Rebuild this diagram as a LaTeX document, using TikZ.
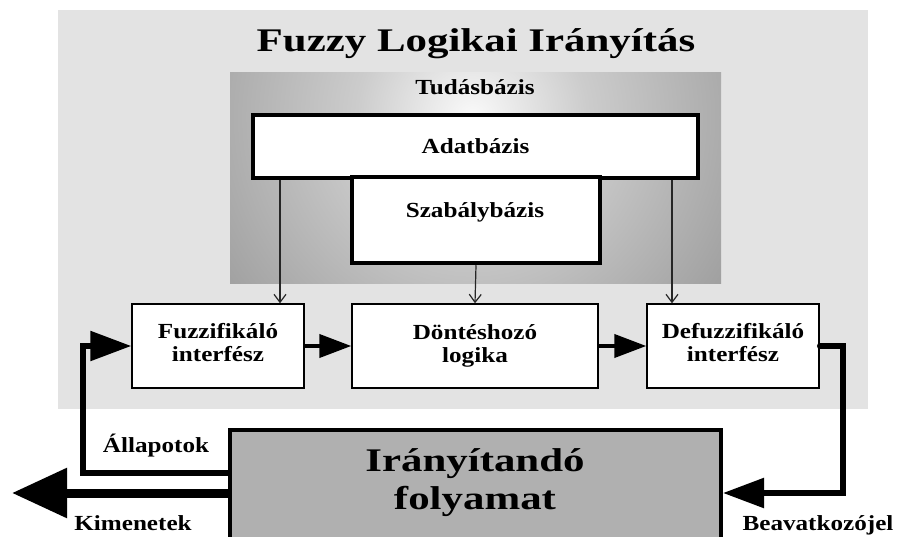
\documentclass[tikz,border=0pt]{standalone}
\usepackage{fontspec}
\setmainfont{Liberation Serif}[FakeStretch=1.3]
\newfontfamily\lblfont{Liberation Serif}[FakeStretch=1.17]
\usetikzlibrary{arrows.meta}
\definecolor{panelgray}{gray}{0.89}
\definecolor{tuda}{gray}{0.98}
\definecolor{tudb}{gray}{0.80}
\definecolor{tudc}{gray}{0.62}
\definecolor{tudd}{gray}{0.51}
\definecolor{tude}{gray}{0.40}
\definecolor{procfill}{gray}{0.69}
\pgfdeclareradialshading{tudas}{\pgfpoint{0bp}{0bp}}{color(0bp)=(tuda); color(9bp)=(tudb); color(24bp)=(tudc); color(38bp)=(tudd); color(47bp)=(tude); color(50bp)=(tude)}
\begin{document}
\begin{tikzpicture}[x=1pt,y=-1pt,
  lbl/.style={font=\lblfont\fontsize{21.5}{23}\selectfont\bfseries, align=center, inner sep=0pt},
  big/.style={font=\fontsize{33}{38}\selectfont\bfseries, align=center, inner sep=0pt},
  unit/.style={draw=black, line width=1.4pt, fill=white, minimum height=84pt, lbl},
  thinarr/.style={draw=black!85, line width=1.2pt, -{Straight Barb[length=8pt,width=12pt]}},
  medarr/.style={line width=4pt, -{Triangle[length=32pt,width=23pt]}},
  fbarr/.style={line width=5.5pt, -{Triangle[length=41pt,width=29pt]}},
  bigarr/.style={line width=9pt, -{Triangle[length=55pt,width=48pt]}}
]
\useasboundingbox (0,0) rectangle (899,537);
% light panel
\fill[panelgray] (58,10) rectangle (868,409);
% knowledge base with radial shading
\begin{scope}
  \clip (230,73) rectangle (721,283);
  \shade[shading=tudas] (472,117) circle (320);
\end{scope}
\node[anchor=base, big] (title) at (476,52) {Fuzzy Logikai Irányítás};
\node[anchor=base, lbl] (tudas) at (475,95) {Tudásbázis};
\node[draw=black, line width=3.5pt, fill=white, minimum width=445pt, minimum height=63pt, lbl] (adat) at (475.5,146.5) {Adatbázis};
\node[draw=black, line width=4.5pt, fill=white, minimum width=248pt, minimum height=86pt, inner sep=0pt] (szab) at (476,220) {};
\node[anchor=base, lbl] (szabt) at (475,218) {Szabálybázis};
% processing units
\node[unit, minimum width=172pt] (fuz) at (218,346) {Fuzzifikáló\\interfész\strut};
\node[unit, minimum width=246pt] (dont) at (475,346) {Döntéshozó\\logika};
\node[unit, minimum width=172pt] (defuz) at (733,346) {Defuzzifikáló\\interfész\strut};
% process
\node[draw=black, line width=4pt, fill=procfill, minimum width=491pt, minimum height=124pt, inner sep=0pt] (proc) at (475.5,492) {};
\node[big] (proct) at (475,483) {Irányítandó\\folyamat};
% coordinates
\coordinate (la) at (280,0);
\coordinate (ra) at (672,0);
\coordinate (fbx) at (83,473);
\coordinate (outend) at (12,493);
\coordinate (dfx) at (843,493);
% thin arrows
\draw[thinarr] (adat.south -| la) -- (fuz.north -| la);
\draw[thinarr] (szab.south) -- (dont.north);
\draw[thinarr] (adat.south -| ra) -- (defuz.north -| ra);
% thick arrows
\draw[medarr] (fuz) -- (dont);
\draw[medarr] (dont) -- (defuz);
\draw[fbarr] (proc.west |- fbx) -- (fbx) |- (fuz.west);
\draw[bigarr] (proc.west |- outend) -- (outend);
\draw[fbarr, line cap=round] (defuz.east) -| (dfx) -- (proc.east |- dfx);
% labels
\node[anchor=base, lbl] (allap) at (156,452) {Állapotok};
\node[anchor=base, lbl] (kimen) at (133,530) {Kimenetek};
\node[anchor=base, lbl] (beav) at (818,530) {Beavatkozójel};
\end{tikzpicture}
\end{document}
